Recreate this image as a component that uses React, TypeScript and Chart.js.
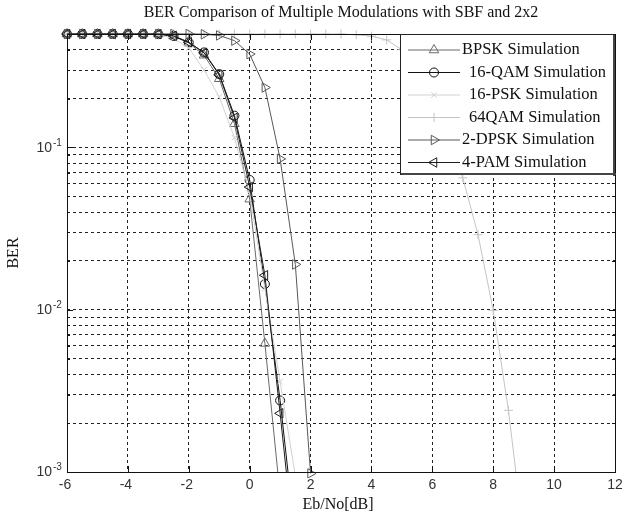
import React, { useEffect, useRef } from 'react';
import { Chart, registerables } from 'chart.js';
import { drawPoint } from 'chart.js/helpers';

Chart.register(...registerables);

const TITLE = 'BER Comparison of Multiple Modulations with SBF and 2x2';
const X_LABEL = 'Eb/No[dB]';
const Y_LABEL = 'BER';

// Eb/No sample points (dB)
const ebNo = [-6, -5.5, -5, -4.5, -4, -3.5, -3, -2.5, -2, -1.5, -1, -0.5, 0, 0.5, 1, 1.5, 2, 2.5, 3, 3.5, 4, 4.5, 5, 5.5, 6, 6.5, 7, 7.5, 8, 8.5, 9];

// BER series
const bpsk = [0.5, 0.5, 0.5, 0.5, 0.5, 0.5, 0.499, 0.485, 0.44, 0.37, 0.265, 0.14, 0.048, 0.0062, 0.00072];
const qam16 = [0.5, 0.5, 0.5, 0.5, 0.5, 0.5, 0.499, 0.486, 0.443, 0.385, 0.283, 0.157, 0.063, 0.0144, 0.00276, 0.00039];
const psk16 = [0.5, 0.5, 0.5, 0.5, 0.5, 0.5, 0.495, 0.47, 0.41, 0.30, 0.205, 0.115, 0.052, 0.0135, 0.0036, 0.00095, 0.0002];
const qam64 = [0.5, 0.5, 0.5, 0.5, 0.5, 0.5, 0.5, 0.5, 0.5, 0.5, 0.5, 0.5, 0.5, 0.5, 0.5, 0.5, 0.5, 0.5, 0.5, 0.495, 0.485, 0.46, 0.4, 0.33, 0.23, 0.13, 0.065, 0.029, 0.0099, 0.0024, 0.0004];
const dpsk2 = [0.5, 0.5, 0.5, 0.5, 0.5, 0.5, 0.5, 0.5, 0.5, 0.498, 0.49, 0.455, 0.376, 0.234, 0.085, 0.019, 0.00098];
const pam4 = [0.5, 0.5, 0.5, 0.5, 0.5, 0.5, 0.499, 0.487, 0.445, 0.383, 0.28, 0.152, 0.057, 0.0163, 0.0023, 0.0003];

const seriesLabels = ['BPSK Simulation', ' 16-QAM Simulation', ' 16-PSK Simulation', ' 64QAM Simulation', '2-DPSK Simulation', '4-PAM Simulation'];
const seriesValues = [bpsk, qam16, psk16, qam64, dpsk2, pam4];
const seriesColors = ['#6a6a6a', '#111111', '#d2d2d2', '#c4c4c4', '#585858', '#1e1e1e'];
const seriesMarkers = ['triangle', 'circle', 'crossRot', 'cross', 'triangle', 'triangle'];
const seriesRotations = [0, 0, 0, 0, 90, -90];
const seriesRadii = [5.5, 4.5, 4, 4.5, 5.5, 5.5];

// Axis ticks
const xTicks = [-6, -4, -2, 0, 2, 4, 6, 8, 10, 12];
const yGrid = [0.001, 0.002, 0.003, 0.004, 0.005, 0.006, 0.007, 0.008, 0.009, 0.01, 0.02, 0.03, 0.04, 0.05, 0.06, 0.07, 0.08, 0.09, 0.1, 0.2, 0.3, 0.4, 0.5];
const yLabelValues = [0.1, 0.01, 0.001];
const yLabelExponents = ['-1', '-2', '-3'];

const SERIF = "'Liberation Serif', 'Times New Roman', serif";
const SANS = "'Liberation Sans', Arial, sans-serif";

function drawText(ctx: CanvasRenderingContext2D, s: string, x: number, y: number, font: string, align: CanvasTextAlign, color = '#1a1a1a') {
  ctx.save();
  ctx.font = font;
  ctx.fillStyle = color;
  ctx.textAlign = align;
  ctx.textBaseline = 'middle';
  ctx.fillText(s, x, y);
  ctx.restore();
}

const decorPlugin = {
  id: 'matlabDecor',
  afterDatasetsDraw(chart: any) {
    const { ctx, chartArea, scales } = chart;
    const { left, right, top, bottom } = chartArea;
    ctx.save();
    ctx.strokeStyle = '#111';
    ctx.lineWidth = 1;
    // box
    ctx.strokeRect(Math.round(left) + 0.5, Math.round(top) + 0.5, Math.round(right - left), Math.round(bottom - top));
    // ticks (inward)
    ctx.beginPath();
    xTicks.forEach((v) => {
      const px = Math.round(scales.x.getPixelForValue(v)) + 0.5;
      ctx.moveTo(px, bottom);
      ctx.lineTo(px, bottom - 6);
      ctx.moveTo(px, top);
      ctx.lineTo(px, top + 6);
    });
    yGrid.forEach((v) => {
      const py = Math.round(scales.y.getPixelForValue(v)) + 0.5;
      const len = yLabelValues.includes(v) ? 6 : 3;
      ctx.moveTo(left, py);
      ctx.lineTo(left + len, py);
      ctx.moveTo(right, py);
      ctx.lineTo(right - len, py);
    });
    ctx.stroke();
    ctx.restore();
  },
  afterDraw(chart: any) {
    const { ctx, chartArea, scales } = chart;
    const { left, right, top, bottom } = chartArea;
    const cx = (left + right) / 2;

    // title and axis labels
    drawText(ctx, TITLE, cx, 13, `16px ${SERIF}`, 'center', '#111');
    drawText(ctx, X_LABEL, cx - 3, 505, `16px ${SERIF}`, 'center', '#111');
    ctx.save();
    ctx.translate(14, (top + bottom) / 2);
    ctx.rotate(-Math.PI / 2);
    drawText(ctx, Y_LABEL, 0, 0, `16px ${SERIF}`, 'center', '#111');
    ctx.restore();

    // x tick labels
    xTicks.forEach((v) => {
      const px = scales.x.getPixelForValue(v);
      drawText(ctx, String(v), px - (v < 0 ? 2 : 0), 485, `14px ${SANS}`, 'center', '#333');
    });
    // y tick labels: 10^k
    yLabelValues.forEach((v, i) => {
      const py = scales.y.getPixelForValue(v);
      drawText(ctx, '10', 52, py + 0.5, `14px ${SANS}`, 'right', '#333');
      drawText(ctx, yLabelExponents[i], 53, py - 4.5, `10px ${SANS}`, 'left', '#333');
    });

    // legend
    const lx = 400, ly = 34, lw = 215, lh = 141;
    ctx.save();
    ctx.fillStyle = '#ffffff';
    ctx.fillRect(lx, ly, lw, lh);
    ctx.strokeStyle = '#222';
    ctx.lineWidth = 1;
    ctx.strokeRect(lx + 0.5, ly + 0.5, lw - 1, lh - 1);
    ctx.fillStyle = '#444';
    ctx.fillRect(lx + lw - 2, ly + 1, 2, lh);
    ctx.fillRect(lx + 1, ly + lh - 2, lw, 2);
    ctx.restore();

    seriesLabels.forEach((label, i) => {
      const y = ly + 16 + i * 22.5;
      ctx.save();
      ctx.strokeStyle = seriesColors[i];
      ctx.fillStyle = 'rgba(0,0,0,0)';
      ctx.lineWidth = 1;
      ctx.beginPath();
      ctx.moveTo(408, y);
      ctx.lineTo(460, y);
      ctx.stroke();
      drawPoint(ctx, { pointStyle: seriesMarkers[i], rotation: seriesRotations[i], radius: seriesRadii[i], borderWidth: 1 } as any, 434, y);
      ctx.restore();
      const startX = label.startsWith(' ') ? 466 : 462;
      drawText(ctx, label.trim(), startX + (label.startsWith(' ') ? 3 : 0), y, `16.5px ${SERIF}`, 'left', '#111');
    });
  },
};

export default function App() {
  const canvasRef = useRef<HTMLCanvasElement>(null);

  useEffect(() => {
    const canvas = canvasRef.current;
    if (!canvas) return;
    const datasets = seriesValues.map((vals, i) => ({
      label: seriesLabels[i],
      data: vals.map((y, k) => ({ x: ebNo[k], y })),
      borderColor: seriesColors[i],
      backgroundColor: 'rgba(0,0,0,0)',
      borderWidth: 1,
      pointStyle: seriesMarkers[i],
      pointRotation: seriesRotations[i],
      pointRadius: seriesRadii[i],
      pointBorderColor: seriesColors[i],
      pointBackgroundColor: 'rgba(0,0,0,0)',
      pointBorderWidth: 1,
      tension: 0,
      fill: false,
      order: 6 - i,
      clip: { left: 8, top: 8, right: 0, bottom: i === 4 ? 6 : 0 },
    }));

    const chart = new Chart(canvas, {
      type: 'line',
      data: { datasets } as any,
      options: {
        animation: false,
        responsive: false,
        devicePixelRatio: 1,
        layout: { padding: { left: 0, right: 12, top: 34, bottom: 0 } },
        plugins: {
          legend: { display: false },
          title: { display: false },
          tooltip: { enabled: false },
        },
        scales: {
          x: {
            type: 'linear',
            min: -6,
            max: 12,
            afterBuildTicks: (s: any) => {
              s.ticks = xTicks.map((v) => ({ value: v }));
            },
            afterFit: (s: any) => {
              s.height = 43;
            },
            ticks: { display: false },
            grid: { color: '#222', lineWidth: 1, drawTicks: false },
            border: { display: false, dash: [3, 3] },
          },
          y: {
            type: 'logarithmic',
            min: 0.001,
            max: 0.5,
            afterBuildTicks: (s: any) => {
              s.ticks = yGrid.map((v) => ({ value: v }));
            },
            afterFit: (s: any) => {
              s.width = 67;
            },
            ticks: { display: false },
            grid: { color: '#222', lineWidth: 1, drawTicks: false },
            border: { display: false, dash: [3, 3] },
          },
        },
      } as any,
      plugins: [decorPlugin],
    });
    return () => chart.destroy();
  }, []);

  return (
    <div style={{ position: 'fixed', left: 0, top: 0, width: 627, height: 515, background: '#fff' }}>
      <canvas ref={canvasRef} width={627} height={515} style={{ display: 'block' }} />
    </div>
  );
}
